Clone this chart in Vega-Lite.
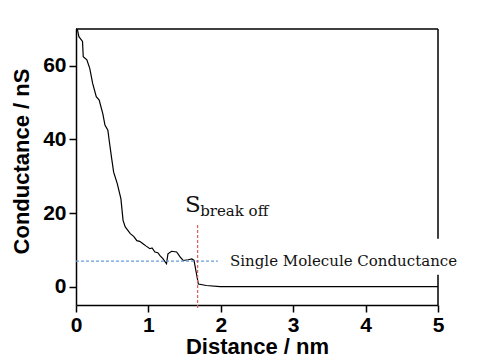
{
  "$schema": "https://vega.github.io/schema/vega-lite/v6.json",
  "width": 362,
  "height": 276,
  "autosize": {"type": "none"},
  "padding": {"left": 76, "top": 29, "right": 43, "bottom": 50},
  "background": "white",
  "config": {
    "view": {"stroke": null},
    "axis": {
      "domainColor": "black", "domainWidth": 1.5, "tickColor": "black", "tickWidth": 1.5, "ticks": true,
      "labelFont": "Liberation Sans", "labelFontWeight": "bold", "labelFontSize": 21, "labelColor": "black",
      "titleFont": "Liberation Sans", "titleFontWeight": "bold", "titleFontSize": 22, "titleColor": "black",
      "grid": false, "labelFlush": false, "labelOverlap": false, "labelBound": false
    }
  },
  "datasets": {
    "curve": [
      {"d": 0.0, "v": 70}, {"d": 0.02, "v": 69.8}, {"d": 0.04, "v": 67.9}, {"d": 0.09, "v": 66.6},
      {"d": 0.1, "v": 62.5}, {"d": 0.15, "v": 61.6}, {"d": 0.19, "v": 59.3}, {"d": 0.23, "v": 55.2},
      {"d": 0.28, "v": 51.6}, {"d": 0.32, "v": 50.7}, {"d": 0.37, "v": 47.0}, {"d": 0.40, "v": 43.9},
      {"d": 0.44, "v": 42.5}, {"d": 0.46, "v": 39.5}, {"d": 0.49, "v": 35.2}, {"d": 0.52, "v": 31.1},
      {"d": 0.57, "v": 28.0}, {"d": 0.62, "v": 23.9}, {"d": 0.65, "v": 18.0}, {"d": 0.68, "v": 16.2},
      {"d": 0.75, "v": 14.4}, {"d": 0.80, "v": 13.6}, {"d": 0.84, "v": 12.5}, {"d": 0.88, "v": 12.3},
      {"d": 0.93, "v": 11.6}, {"d": 0.97, "v": 11.0}, {"d": 1.02, "v": 10.3}, {"d": 1.05, "v": 10.5},
      {"d": 1.09, "v": 9.4}, {"d": 1.13, "v": 9.2}, {"d": 1.16, "v": 8.4}, {"d": 1.2, "v": 7.6},
      {"d": 1.25, "v": 6.2}, {"d": 1.27, "v": 8.9}, {"d": 1.32, "v": 9.6}, {"d": 1.39, "v": 9.4},
      {"d": 1.44, "v": 8.0}, {"d": 1.48, "v": 7.1}, {"d": 1.55, "v": 7.3}, {"d": 1.6, "v": 7.5},
      {"d": 1.63, "v": 7.1}, {"d": 1.66, "v": 3.9}, {"d": 1.69, "v": 0.7}, {"d": 1.8, "v": 0.3},
      {"d": 1.99, "v": 0.0}, {"d": 5.0, "v": 0.0}
    ]
  },
  "layer": [
    {
      "data": {"name": "curve"},
      "mark": {"type": "line", "color": "black", "strokeWidth": 1.2},
      "encoding": {
        "x": {
          "field": "d", "type": "quantitative",
          "scale": {"domain": [0, 5], "nice": false, "zero": false},
          "axis": {
            "title": "Distance / nm", "titleY": 48, "titleBaseline": "alphabetic",
            "values": [0, 0.5, 1, 1.5, 2, 2.5, 3, 3.5, 4, 4.5, 5],
            "labelExpr": "datum.value % 1 === 0 ? format(datum.value, 'd') : ''",
            "tickSize": {"condition": {"test": "datum.value % 1 !== 0", "value": 4}, "value": 7},
            "labelPadding": 2, "labelOverlap": false, "labelSeparation": 0
          }
        },
        "y": {
          "field": "v", "type": "quantitative",
          "scale": {"domain": [-5, 70], "nice": false, "zero": false},
          "axis": {
            "title": "Conductance / nS", "titleX": -48, "titleY": 132, "titleBaseline": "alphabetic",
            "values": [0, 5, 10, 15, 20, 25, 30, 35, 40, 45, 50, 55, 60, 65, 70],
            "labelExpr": "datum.value % 10 === 0 ? format(datum.value, 'd') : ''",
            "tickSize": {"condition": {"test": "datum.value % 10 !== 0", "value": 4}, "value": 7},
            "labelPadding": 3, "labelOverlap": false, "labelSeparation": 0, "labelBaseline": "middle"
          }
        }
      }
    },
    {
      "data": {"values": [{"d": 0, "d2": 5, "v": 70}]},
      "mark": {"type": "rule", "color": "black", "strokeWidth": 1.5, "clip": false},
      "encoding": {"x": {"field": "d", "type": "quantitative"}, "x2": {"field": "d2"}, "y": {"field": "v", "type": "quantitative"}}
    },
    {
      "data": {"values": [{"d": 5, "v": 13, "v2": 70}, {"d": 5, "v": -5, "v2": 3.2}]},
      "mark": {"type": "rule", "color": "black", "strokeWidth": 1.5, "clip": false},
      "encoding": {"x": {"field": "d", "type": "quantitative"}, "y": {"field": "v", "type": "quantitative"}, "y2": {"field": "v2"}}
    },
    {
      "data": {"values": [{"d": 0, "d2": 1.96, "v": 6.9}]},
      "mark": {"type": "rule", "color": "#6a9be0", "strokeWidth": 1.2, "strokeDash": [3, 2]},
      "encoding": {"x": {"field": "d", "type": "quantitative"}, "x2": {"field": "d2"}, "y": {"field": "v", "type": "quantitative"}}
    },
    {
      "data": {"values": [{"d": 1.68, "v": -5.8, "v2": 17.2}]},
      "mark": {"type": "rule", "color": "#e05a5a", "strokeWidth": 1.2, "strokeDash": [3, 2], "clip": false},
      "encoding": {"x": {"field": "d", "type": "quantitative"}, "y": {"field": "v", "type": "quantitative"}, "y2": {"field": "v2"}}
    },
    {
      "data": {"values": [
        {"d": 1.505, "v": 20.2, "t": "S", "s": 23},
        {"d": 1.715, "v": 19.3, "t": "break off", "s": 15},
        {"d": 2.127, "v": 5.7, "t": "Single Molecule Conductance", "s": 15}
      ]},
      "mark": {"type": "text", "font": "DejaVu Serif", "align": "left", "baseline": "alphabetic", "color": "#111111", "clip": false},
      "encoding": {
        "x": {"field": "d", "type": "quantitative"},
        "y": {"field": "v", "type": "quantitative"},
        "text": {"field": "t"},
        "size": {"field": "s", "type": "quantitative", "scale": null}
      }
    }
  ]
}
